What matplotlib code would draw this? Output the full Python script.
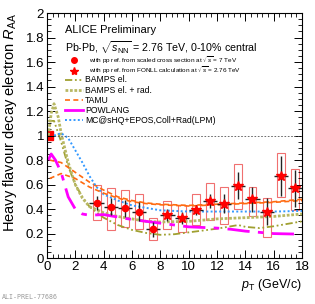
import matplotlib
matplotlib.use("Agg")
import matplotlib.pyplot as plt
from matplotlib.patches import Rectangle
from matplotlib.ticker import MultipleLocator

plt.rcParams['font.family'] = ['Liberation Sans', 'DejaVu Sans']
plt.rcParams['mathtext.fontset'] = 'custom'
plt.rcParams['mathtext.rm'] = 'Liberation Sans'
plt.rcParams['mathtext.it'] = 'Liberation Sans:italic'

# measured points (circles: pp ref from scaled cross section, stars: FONLL ref)
pt_circ = [3.5, 4.5, 5.5, 6.5, 7.5]
raa_circ = [0.45, 0.42, 0.405, 0.38, 0.235]
stat_circ = [0.06, 0.07, 0.07, 0.08, 0.06]
syshi_circ = [0.15, 0.15, 0.15, 0.14, 0.09]
syslo_circ = [0.14, 0.19, 0.155, 0.145, 0.09]

pt_star = [8.5, 9.5, 10.5, 11.5, 12.5, 13.5, 14.5, 15.5, 16.5, 17.5]
raa_star = [0.35, 0.325, 0.395, 0.465, 0.445, 0.59, 0.48, 0.38, 0.67, 0.57]
stat_star = [0.05, 0.05, 0.04, 0.06, 0.08, 0.11, 0.10, 0.11, 0.16, 0.15]
syshi_star = [0.12, 0.105, 0.125, 0.15, 0.135, 0.18, 0.10, 0.11, 0.19, 0.16]
syslo_star = [0.11, 0.11, 0.125, 0.155, 0.165, 0.19, 0.14, 0.21, 0.17, 0.18]

norm_unc = 0.04

# model curves
bamps_x = [0.1, 0.5, 1, 1.5, 2, 2.5, 3, 4, 5, 6, 7, 8, 9, 10, 11, 12, 13, 13.5, 14, 15, 16, 17, 18]
bamps_y = [1.12, 1.12, 0.95, 0.75, 0.60, 0.50, 0.42, 0.33, 0.27, 0.23, 0.205, 0.19, 0.195, 0.21,
           0.225, 0.24, 0.26, 0.27, 0.255, 0.245, 0.26, 0.28, 0.30]

bampsrad_x = [0.1, 0.3, 0.5, 0.8, 1, 1.5, 2, 2.5, 3, 4, 5, 6, 7, 8, 10, 12, 14, 16, 18]
bampsrad_y = [1.0, 1.18, 1.26, 1.15, 1.02, 0.78, 0.60, 0.49, 0.42, 0.37, 0.34, 0.32, 0.30, 0.295,
              0.30, 0.32, 0.33, 0.34, 0.36]

tamu_x = [0.2, 1, 2, 3, 4, 5, 6, 7, 8, 10, 12, 14, 16, 18]
tamu_hi = [0.80, 0.78, 0.70, 0.62, 0.555, 0.50, 0.47, 0.45, 0.44, 0.43, 0.44, 0.45, 0.46, 0.48]
tamu_lo = [0.65, 0.69, 0.65, 0.58, 0.53, 0.49, 0.46, 0.445, 0.435, 0.425, 0.435, 0.445, 0.455, 0.47]

powlang_x = [0.1, 0.3, 0.6, 1, 1.5, 2, 2.5, 3, 4, 5, 6, 7, 8, 9, 10, 12, 13, 14, 15, 16, 18]
powlang_y = [0.80, 0.85, 0.80, 0.70, 0.50, 0.40, 0.36, 0.35, 0.355, 0.335, 0.315, 0.30, 0.285,
             0.27, 0.255, 0.245, 0.235, 0.22, 0.21, 0.20, 0.195]

mcshq_x = [0.5, 1, 1.5, 2, 2.5, 3, 3.5, 4, 5, 6, 7, 8, 10, 12, 14, 16, 18]
mcshq_y = [1.0, 1.02, 0.98, 0.88, 0.78, 0.67, 0.58, 0.52, 0.47, 0.43, 0.41, 0.39, 0.38, 0.38,
           0.38, 0.38, 0.385]

models = [
    ('BAMPS el.', bamps_x, bamps_y, dict(color='#a0a030', lw=1.3, ls=(0, (4, 1.5, 1, 1.5, 1, 1.5)))),
    ('BAMPS el. + rad.', bampsrad_x, bampsrad_y, dict(color='#b8b864', lw=2.0, ls=(0, (1, 0.6)))),
    ('TAMU', tamu_x, tamu_hi, dict(color='#ff6a10', lw=1.2, ls=(0, (3, 2)))),
    ('POWLANG', powlang_x, powlang_y, dict(color='#ff00ff', lw=2.0, ls=(0, (8, 3, 2, 3)))),
    ('MC@sHQ+EPOS,Coll+Rad(LPM)', mcshq_x, mcshq_y, dict(color='#3399ff', lw=1.4, ls=(0, (1, 1.2)))),
]

fig = plt.figure(figsize=(3.15, 3.04), dpi=100)
ax = fig.add_axes([0.149, 0.151, 0.810, 0.806])

for name, x, y, st in models:
    ax.plot(x, y, **st)
ax.plot(tamu_x, tamu_lo, **models[2][3])

# reference line and normalisation box
ax.plot([0.5, 18], [1, 1], color='#555555', lw=0.6, ls=(0, (2, 2)))
ax.add_patch(Rectangle((0, 1 - norm_unc), 0.45, 2 * norm_unc, facecolor='red', edgecolor='red'))

# data: systematic boxes, stat bars, markers
box_w = 0.56
for x, y, hi, lo in zip(pt_circ + pt_star, raa_circ + raa_star,
                        syshi_circ + syshi_star, syslo_circ + syslo_star):
    ax.add_patch(Rectangle((x - box_w / 2, y - lo), box_w, hi + lo, fill=False,
                           edgecolor='#f07070', lw=0.8))

ax.errorbar(pt_circ, raa_circ, yerr=stat_circ, xerr=0.5, fmt='none', ecolor='#222222',
            elinewidth=1.0, capsize=0)
ax.errorbar(pt_star, raa_star, yerr=stat_star, xerr=0.5, fmt='none', ecolor='#222222',
            elinewidth=1.0, capsize=0)
ax.plot(pt_circ, raa_circ, 'o', color='red', ms=4.5, mec='red')
ax.plot(pt_star, raa_star, '*', color='red', ms=7, mec='red')

ax.set_xlim(0, 18)
ax.set_ylim(0, 2)
ax.xaxis.set_major_locator(MultipleLocator(2))
ax.xaxis.set_minor_locator(MultipleLocator(0.4))
ax.yaxis.set_major_locator(MultipleLocator(0.2))
ax.yaxis.set_minor_locator(MultipleLocator(0.05))
ax.tick_params(which='both', direction='in', top=True, right=True, labelsize=9.5, pad=2)
ax.tick_params(which='major', length=6, width=0.7)
ax.tick_params(which='minor', length=3, width=0.6)
ax.set_yticks([0, 0.2, 0.4, 0.6, 0.8, 1, 1.2, 1.4, 1.6, 1.8, 2])
ax.set_yticklabels(['0', '0.2', '0.4', '0.6', '0.8', '1', '1.2', '1.4', '1.6', '1.8', '2'])
for s in ax.spines.values():
    s.set_linewidth(0.8)

fig.text(0.032, 0.958, r'Heavy flavour decay electron $R_{\rm AA}$', rotation=90,
         ha='center', va='top', fontsize=10.5)
fig.text(0.958, 0.062, r'$p_{\rm T}$ (GeV/c)', ha='right', va='center', fontsize=9)
fig.text(0.006, 0.018, 'ALI-PREL-77686', fontsize=4.8, color='#999999', family='DejaVu Sans Mono')

ax.text(0.071, 0.930, 'ALICE Preliminary', transform=ax.transAxes, fontsize=8, va='center')
ax.text(0.071, 0.860, r'Pb-Pb, $\sqrt{s_{\rm NN}}$ = 2.76 TeV, 0-10% central',
        transform=ax.transAxes, fontsize=7.7, va='center')

# legend for data markers
ref_labels = [r'with pp ref. from scaled cross section at $\sqrt{s}$ = 7 TeV',
              r'with pp ref. from FONLL calculation at $\sqrt{s}$ = 2.76 TeV']
for (mk, ms), lab, yy in zip([('o', 4), ('*', 6)], ref_labels, [0.808, 0.765]):
    ax.plot([0.106], [yy], mk, color='red', ms=ms, transform=ax.transAxes, clip_on=False)
    ax.text(0.165, yy, lab, transform=ax.transAxes, fontsize=4.6, va='center')

# legend for models
for (name, x, y, st), yy in zip(models, [0.727, 0.686, 0.645, 0.604, 0.563]):
    st2 = dict(st)
    if name == 'POWLANG':
        st2['ls'] = '-'
    ax.plot([0.071, 0.141], [yy, yy], transform=ax.transAxes, **st2)
    ax.text(0.149, yy, name, transform=ax.transAxes, fontsize=6.2, va='center')

fig.savefig('out.png', dpi=100)
